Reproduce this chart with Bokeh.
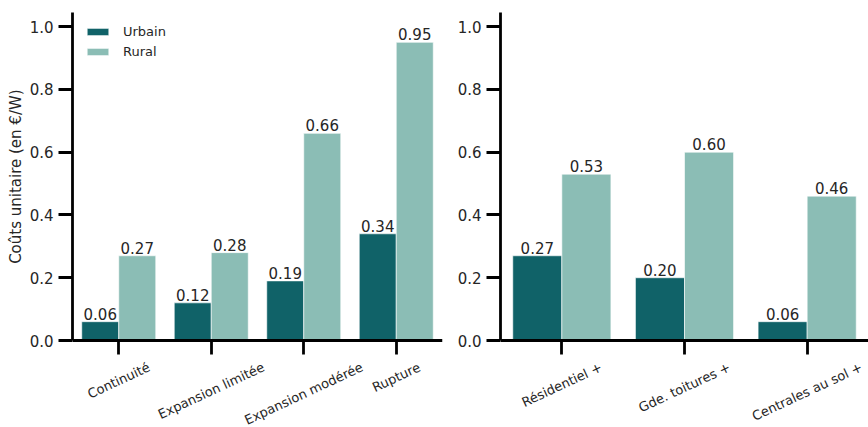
import math
from bokeh.plotting import figure
from bokeh.models import (ColumnDataSource, LabelSet, FixedTicker, PrintfTickFormatter,
                          CustomJSTickFormatter, FactorRange, Range1d, Title)
from bokeh.transform import dodge
from bokeh.layouts import row
from bokeh.core.properties import value
from bokeh.embed import file_html
from bokeh.resources import INLINE

# ---------------- data ----------------
categories_left = ["Continuité", "Expansion limitée", "Expansion modérée", "Rupture"]
urbain_left = [0.06, 0.12, 0.19, 0.34]
rural_left = [0.27, 0.28, 0.66, 0.95]

categories_right = ["Résidentiel +", "Gde. toitures +", "Centrales au sol +"]
urbain_right = [0.27, 0.20, 0.06]
rural_right = [0.53, 0.60, 0.46]

y_ticks = [0.0, 0.2, 0.4, 0.6, 0.8, 1.0]
y_max = 1.045
series_names = ["Urbain", "Rural"]
y_label = "Coûts unitaire (en €/W)"

# ---------------- style ----------------
FONT = "DejaVu Sans"
FS = 15      # tick labels, value labels, axis title
XFS = 13     # rotated category labels
LFS = 13     # legend
DARK = "#106268"
LIGHT = "#8bbdb5"
TXT = "#262626"
ANGLE = 25.0
PX_PER_UNIT = 314.0
BELOW_PX = 87.0       # room under the zero line for the rotated category labels
FRAME_TOP = 12

# DejaVu Sans advance widths (em) for estimating text extents
CW = {"C": .698, "o": .612, "n": .634, "t": .392, "i": .278, "u": .634, "é": .615,
      "E": .632, "x": .592, "p": .635, "a": .613, "s": .521, " ": .318, "l": .278,
      "m": .974, "d": .635, "r": .411, "e": .615, "R": .695, "G": .775, ".": .318,
      "+": .838, "û": .634, "(": .390, ")": .390, "€": .636, "/": .337, "W": .989}


def text_len(s, size):
    return sum(CW.get(c, 0.6) for c in s) * size


def tick_offset(s):
    th = math.radians(ANGLE)
    return -(19 + (text_len(s, XFS) * math.sin(th) + 15 * math.cos(th)) / 2)


def make_panel(cats, urb, rur, left_border, right_border, fw, ylabel=None, legend=False):
    src = ColumnDataSource(dict(
        cat=cats, urb=urb, rur=rur,
        urb_lbl=[f"{v:.2f}" for v in urb],
        rur_lbl=[f"{v:.2f}" for v in rur],
        zero=[0.0] * len(cats),
        toff=[tick_offset(c) for c in cats],
    ))
    y_min = -BELOW_PX / PX_PER_UNIT
    fh = int(round((y_max - y_min) * PX_PER_UNIT))
    p = figure(x_range=FactorRange(factors=cats), y_range=Range1d(y_min, y_max),
               frame_width=fw, frame_height=fh,
               min_border_left=left_border, min_border_right=right_border,
               min_border_top=FRAME_TOP, min_border_bottom=0,
               output_backend="svg", toolbar_location=None, tools="")
    p.outline_line_color = None
    p.xgrid.grid_line_color = None
    p.ygrid.grid_line_color = None
    p.background_fill_color = "white"
    p.border_fill_color = "white"

    kw_u = dict(legend_label=series_names[0]) if legend else {}
    kw_r = dict(legend_label=series_names[1]) if legend else {}
    p.vbar(x=dodge("cat", -0.2, range=p.x_range), top="urb", width=0.4, source=src,
           fill_color=DARK, line_color="white", line_width=0.6, **kw_u)
    p.vbar(x=dodge("cat", 0.2, range=p.x_range), top="rur", width=0.4, source=src,
           fill_color=LIGHT, line_color="white", line_width=0.6, **kw_r)

    for off, col, lbl in [(-0.2, "urb", "urb_lbl"), (0.2, "rur", "rur_lbl")]:
        p.add_layout(LabelSet(x=dodge("cat", off, range=p.x_range), y=col, text=lbl,
                              source=src, text_align="center", text_baseline="alphabetic",
                              y_offset=2, text_font=value(FONT), text_font_size=f"{FS}px",
                              text_color=TXT))

    # rotated category labels, centred under each tick
    p.add_layout(LabelSet(x="cat", y="zero", text="cat", source=src,
                          angle=math.radians(ANGLE),
                          text_align="center", text_baseline="middle",
                          y_offset="toff", text_font=value(FONT),
                          text_font_size=f"{XFS}px", text_color=TXT))

    for ax in (p.xaxis[0], p.yaxis[0]):
        ax.axis_line_color = "black"
        ax.axis_line_width = 2.8
        ax.major_tick_line_color = "black"
        ax.major_tick_line_width = 2.8
        ax.major_tick_out = 14
        ax.major_tick_in = 0
        ax.minor_tick_line_color = None
        ax.major_label_text_font = FONT
        ax.major_label_text_font_size = f"{FS}px"
        ax.major_label_text_color = TXT
        ax.major_label_standoff = 5

    p.xaxis.fixed_location = 0
    p.xaxis.formatter = CustomJSTickFormatter(code="return ''")
    p.yaxis.ticker = FixedTicker(ticks=y_ticks)
    p.yaxis.formatter = PrintfTickFormatter(format="%.1f")
    p.yaxis.bounds = (0, y_max)

    if ylabel:
        # vertical title, centred on the 0..y_max part of the axis
        mid_from_bottom = BELOW_PX + y_max * PX_PER_UNIT / 2
        off = mid_from_bottom - text_len(ylabel, FS) / 2
        p.add_layout(Title(text=ylabel, align="left", offset=off,
                           text_font=FONT, text_font_size=f"{FS}px",
                           text_font_style="normal", text_color=TXT, standoff=4), "left")

    if legend:
        lg = p.legend[0]
        lg.location = "top_left"
        lg.margin = 12
        lg.padding = 0
        lg.border_line_color = None
        lg.background_fill_alpha = 0
        lg.glyph_width = 27
        lg.glyph_height = 9
        lg.label_standoff = 12
        lg.spacing = 5
        lg.label_height = 14
        lg.label_text_font = FONT
        lg.label_text_font_size = f"{LFS}px"
        lg.label_text_color = TXT
    return p


p1 = make_panel(categories_left, urbain_left, rural_left, 72, 10, 370, ylabel=y_label, legend=True)
p2 = make_panel(categories_right, urbain_right, rural_right, 48, 0, 368)

layout = row(p1, p2)
open("out.html", "w").write(file_html(layout, INLINE))
